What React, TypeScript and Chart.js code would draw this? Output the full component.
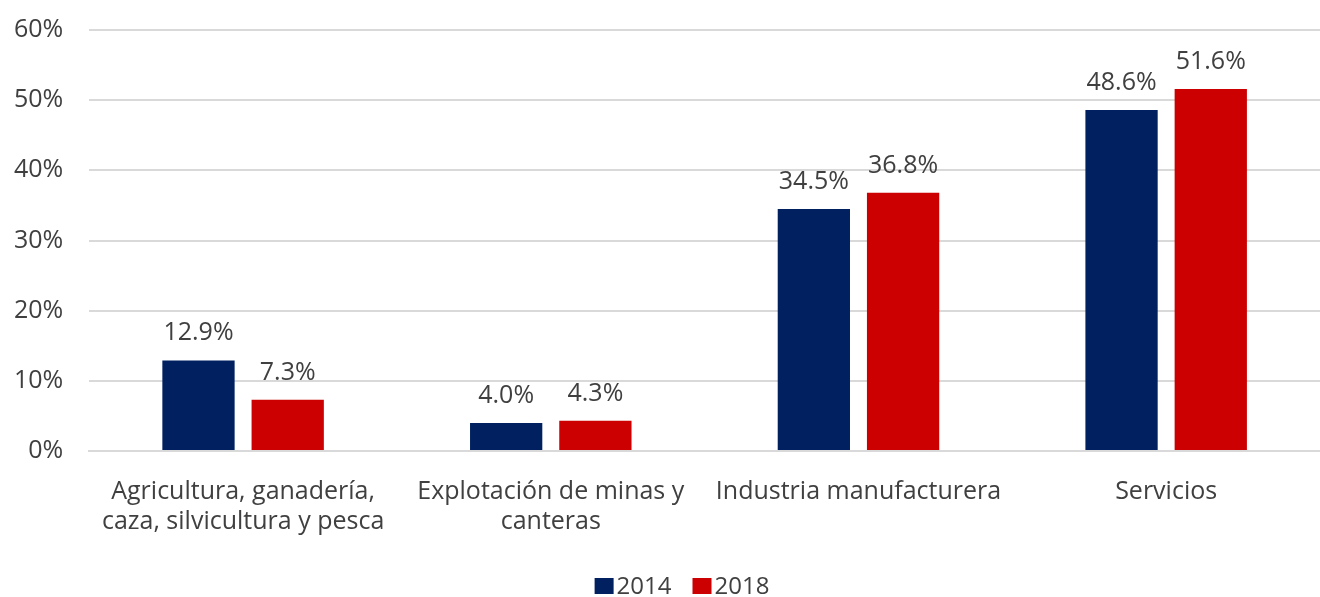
import React, { useEffect, useRef } from "react";
import { Chart, registerables } from "chart.js";

Chart.register(...registerables);

const categories: (string | string[])[] = [
  ["Agricultura, ganadería,", "caza, silvicultura y pesca"],
  ["Explotación de minas y", "canteras"],
  "Industria manufacturera",
  "Servicios",
];
const series2014 = [12.9, 4.0, 34.5, 48.6];
const series2018 = [7.3, 4.3, 36.8, 51.6];
const seriesLabels = ["2014", "2018"];
const seriesColors = ["#002060", "#CC0000"];
const FONT = "'Open Sans', 'Liberation Sans', sans-serif";
const TEXT = "#404040";

const dataLabelPlugin = {
  id: "dataLabels",
  afterDatasetsDraw(chart: any) {
    const ctx = chart.ctx;
    ctx.save();
    ctx.font = `25px ${FONT}`;
    ctx.fillStyle = TEXT;
    ctx.textAlign = "center";
    ctx.textBaseline = "alphabetic";
    chart.data.datasets.forEach((ds: any, i: number) => {
      const meta = chart.getDatasetMeta(i);
      meta.data.forEach((bar: any, j: number) => {
        ctx.fillText(ds.data[j].toFixed(1) + "%", bar.x, bar.y - 20);
      });
    });
    ctx.restore();
  },
};

const legendPlugin = {
  id: "customLegend",
  afterDraw(chart: any) {
    const ctx = chart.ctx;
    ctx.save();
    ctx.font = `24px ${FONT}`;
    ctx.textBaseline = "middle";
    ctx.textAlign = "left";
    const boxW = 19, boxH = 16, boxGap = 3, itemGap = 21;
    const items = chart.data.datasets.map((ds: any) => ({
      label: ds.label,
      color: ds.backgroundColor,
      w: boxW + boxGap + ctx.measureText(ds.label).width,
    }));
    const total = items.reduce((s: number, it: any) => s + it.w, 0) + itemGap * (items.length - 1);
    let x = chart.width / 2 + 22 - total / 2;
    const cy = chart.chartArea.bottom + 135;
    items.forEach((it: any) => {
      ctx.fillStyle = it.color;
      ctx.fillRect(x, cy - boxH / 2, boxW, boxH);
      ctx.fillStyle = TEXT;
      ctx.fillText(it.label, x + boxW + boxGap, cy + 1);
      x += it.w + itemGap;
    });
    ctx.restore();
  },
};

export default function App() {
  const ref = useRef<HTMLCanvasElement>(null);
  useEffect(() => {
    const chart = new Chart(ref.current!, {
      type: "bar",
      data: {
        labels: categories,
        datasets: [
          { label: seriesLabels[0], data: series2014, backgroundColor: seriesColors[0], categoryPercentage: 0.58, barPercentage: 0.81 },
          { label: seriesLabels[1], data: series2018, backgroundColor: seriesColors[1], categoryPercentage: 0.58, barPercentage: 0.81 },
        ],
      },
      options: {
        responsive: false,
        animation: false,
        layout: { padding: { top: 0, right: 0, left: 14, bottom: 0 } },
        plugins: {
          legend: { display: false },
          tooltip: { enabled: false },
        },
        scales: {
          x: {
            grid: { display: false },
            border: { color: "#d9d9d9", width: 2 },
            ticks: { font: { family: FONT, size: 25 }, color: TEXT, maxRotation: 0, padding: 18 },
            afterFit: (scale: any) => {
              scale.paddingLeft = 0;
              scale.paddingRight = 0;
              scale.height = 146;
            },
          },
          y: {
            min: 0,
            max: 60,
            border: { display: false },
            grid: { color: "#d9d9d9", lineWidth: 2, drawTicks: false },
            ticks: {
              stepSize: 10,
              padding: 26,
              font: { family: FONT, size: 25 },
              color: TEXT,
              callback: (v: any) => v + "%",
            },
            afterFit: (scale: any) => {
              scale.width -= 26;
              scale.paddingTop = 30;
              scale.paddingBottom = 0;
            },
          },
        },
      },
      plugins: [dataLabelPlugin, legendPlugin],
    });
    return () => chart.destroy();
  }, []);
  return (
    <div style={{ position: "fixed", left: 0, top: 0, width: 1320, height: 597, background: "#fff" }}>
      <canvas ref={ref} width={1320} height={597} />
    </div>
  );
}
